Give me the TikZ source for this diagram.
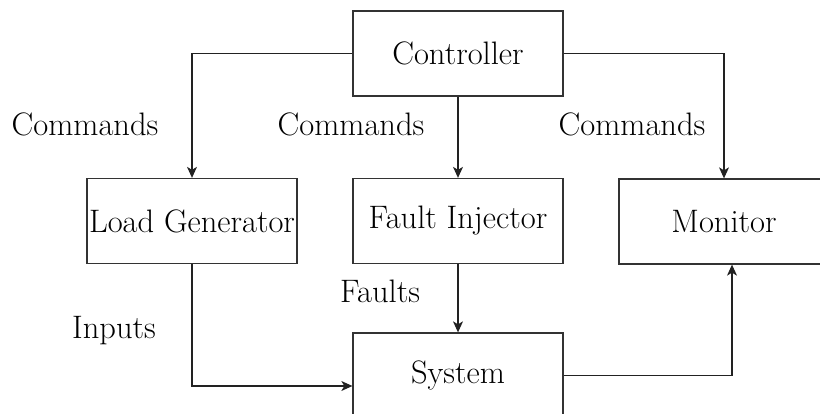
\documentclass[tikz,border=0pt]{standalone}
\usetikzlibrary{arrows.meta}
\definecolor{edge}{HTML}{333333}
\definecolor{wire}{HTML}{222222}
\begin{document}
\begin{tikzpicture}[x=1pt,y=-1pt,
  blk/.style={draw=edge,line width=1.3pt,minimum width=210pt,minimum height=85pt,
              inner sep=0pt,anchor=center,font=\fontsize{32.5}{36}\selectfont},
  lbl/.style={font=\fontsize{32.5}{36}\selectfont,inner sep=0pt},
  arr/.style={draw=wire,line width=1.1pt,-{Stealth[length=11pt,width=10pt,inset=3pt]}}]
\useasboundingbox (0,0) rectangle (820,414);
\clip (0,0) rectangle (820,414);

% blocks
\node[blk] (ctrl)  at (458,53.5)  {Controller};
\node[blk] (load)  at (192,221)   {Load Generator};
\node[blk] (fault) at (458,221)   {Fault Injector};
\node[blk] (mon)   at (724,221.5) {Monitor};
\node[blk] (sys)   at (458,375.5) {System};

% signal flow
\draw[arr] (ctrl.west) -| (load.north);
\draw[arr] (ctrl.south) -- (fault.north);
\draw[arr] (ctrl.east) -| (mon.north);
\draw[arr] (load.south) |- ([yshift=-10.5pt]sys.west);
\draw[arr] (fault.south) -- (sys.north);
\draw[arr] (sys.east) -| ([xshift=8pt]mon.south);

% edge labels
\node[lbl] (c1) at (85,124)  {Commands};
\node[lbl] (c2) at (351,124) {Commands};
\node[lbl] (c3) at (632,124) {Commands};
\node[lbl] (fl) at (380,291) {Faults};
\node[lbl] (in) at (114,331) {Inputs};
\end{tikzpicture}
\end{document}
